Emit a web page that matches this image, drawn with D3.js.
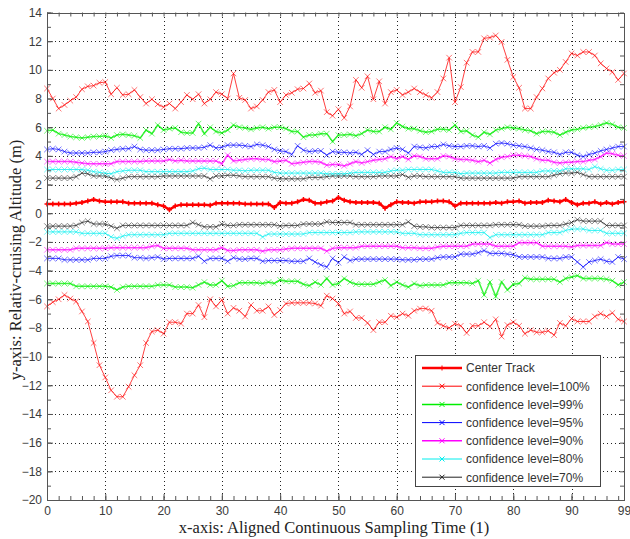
<!DOCTYPE html>
<html>
<head>
<meta charset="utf-8">
<script src="https://cdn.jsdelivr.net/npm/d3@7/dist/d3.min.js"></script>
<style>
  html, body { margin: 0; padding: 0; background: #fff; }
  svg { display: block; }
</style>
</head>
<body>
<svg id="chart" width="630" height="539"></svg>
<script>
// ---------------- DATA ----------------
const sampleTimes = d3.range(0, 100); // 0..99

const centerTrack = [0.65,0.65,0.65,0.65,0.65,0.7,0.75,0.85,0.95,0.85,0.8,0.8,0.8,0.8,0.7,0.7,0.7,0.7,0.7,0.6,0.5,0.25,0.5,0.6,0.6,0.6,0.6,0.6,0.55,0.7,0.7,0.7,0.7,0.7,0.65,0.65,0.65,0.65,0.65,0.4,0.75,0.7,0.7,0.8,0.95,0.9,0.7,0.7,0.8,0.85,1.1,0.9,0.8,0.75,0.75,0.75,0.75,0.7,0.35,0.6,0.8,0.75,0.75,0.7,0.8,0.8,0.8,0.85,0.85,0.8,0.5,0.7,0.7,0.7,0.7,0.7,0.7,0.75,0.7,0.8,0.8,0.85,0.7,0.75,0.75,0.75,0.9,0.85,0.8,0.95,0.75,0.6,0.7,0.7,0.8,0.65,0.75,0.65,0.75,0.8];

const upper100 = [8.7,8.0,7.3,7.55,7.85,8.1,8.65,8.85,8.9,9.1,9.15,8.3,8.75,8.25,8.3,8.6,8.1,7.65,7.95,7.6,7.4,7.65,7.3,7.75,8.25,7.95,8.3,7.65,7.95,8.45,8.3,8.0,9.75,8.05,7.9,7.3,7.45,7.9,8.45,8.6,7.75,8.25,8.4,8.65,8.7,9.05,8.4,8.55,7.05,6.8,7.25,6.65,7.45,9.3,8.75,9.55,7.95,9.2,7.65,8.45,8.6,8.25,8.45,8.7,8.45,8.25,8.05,8.45,9.4,10.85,7.75,8.8,10.5,11.25,11.25,12.2,12.25,12.4,11.95,10.7,9.5,8.75,7.3,7.3,8.1,8.7,9.4,9.8,10.0,10.55,11.15,11.0,11.25,11.25,11.0,10.45,10.1,9.85,9.3,9.75];
const lower100 = [-6.5,-6.2,-6.0,-5.7,-5.95,-6.15,-6.85,-7.55,-9.05,-10.6,-11.45,-12.35,-12.8,-12.8,-12.1,-11.3,-10.6,-9.05,-8.25,-8.15,-8.4,-7.6,-7.6,-7.7,-7.0,-7.0,-6.4,-7.25,-6.0,-6.5,-6.05,-7.0,-6.6,-6.8,-7.2,-6.4,-6.8,-6.8,-6.5,-7.1,-6.75,-6.3,-6.25,-6.25,-6.25,-6.25,-6.3,-6.45,-5.75,-5.95,-6.3,-7.0,-6.85,-7.3,-7.3,-7.65,-8.15,-7.6,-7.6,-7.15,-7.25,-7.0,-7.15,-6.8,-6.65,-6.65,-6.8,-7.65,-7.85,-8.0,-7.7,-7.85,-8.35,-7.85,-7.85,-7.6,-7.9,-7.4,-8.6,-7.8,-7.6,-7.85,-8.4,-8.15,-8.3,-8.3,-8.2,-8.5,-7.65,-7.85,-7.35,-7.55,-7.55,-7.55,-7.2,-7.0,-7.2,-6.95,-7.4,-7.55];

const upper99 = [5.75,5.8,5.55,5.45,5.35,5.3,5.25,5.3,5.35,5.35,5.4,5.25,5.45,5.5,5.45,5.4,5.25,5.8,5.55,6.15,5.8,5.9,5.95,5.65,5.6,5.6,6.25,5.55,6.0,5.7,5.6,5.8,6.15,6.0,5.95,5.85,5.95,6.0,5.9,6.0,6.0,5.9,5.7,5.7,5.3,5.45,5.45,5.55,5.55,5.0,5.45,5.45,5.5,5.4,5.55,5.8,5.7,5.7,6.0,5.85,6.3,6.05,5.9,5.9,5.75,5.65,5.7,5.85,5.85,5.8,6.15,5.7,5.75,5.45,5.3,5.65,5.5,5.8,5.9,6.0,5.95,5.9,5.8,5.75,5.55,5.7,5.7,5.65,5.45,5.65,5.8,5.85,5.95,6.0,6.05,6.15,6.3,6.2,6.0,5.95];
const lower99 = [-4.9,-4.9,-4.9,-4.9,-4.9,-5.1,-5.1,-5.1,-5.1,-5.1,-5.1,-5.15,-5.35,-5.15,-5.1,-5.1,-5.1,-5.1,-5.1,-5.0,-5.0,-5.0,-5.15,-5.15,-5.15,-5.2,-5.0,-4.8,-5.0,-5.0,-4.7,-5.1,-5.05,-4.85,-4.85,-4.85,-4.85,-4.9,-4.8,-4.9,-4.65,-4.75,-4.75,-4.75,-4.95,-5.05,-4.8,-5.0,-4.55,-5.0,-4.9,-4.55,-4.8,-4.95,-4.95,-4.95,-4.95,-4.8,-4.65,-5.05,-4.8,-5.0,-5.15,-4.9,-5.05,-5.0,-5.0,-5.0,-5.0,-4.85,-4.85,-4.85,-4.85,-4.9,-4.7,-5.7,-4.8,-5.8,-4.8,-5.35,-4.95,-4.9,-4.5,-4.6,-4.6,-4.6,-4.6,-4.6,-4.8,-4.55,-4.45,-4.35,-4.55,-4.55,-4.55,-4.55,-4.6,-4.7,-5.0,-4.8];

const upper95 = [4.45,4.5,4.45,4.3,4.2,4.2,4.2,4.2,4.25,4.25,4.3,4.4,4.45,4.5,4.5,4.65,4.45,4.4,4.4,4.4,4.45,4.5,4.5,4.5,4.55,4.55,4.55,4.6,4.75,4.55,4.6,4.75,4.75,4.75,4.7,4.65,4.8,4.75,4.65,4.45,4.35,4.3,4.1,4.7,4.4,4.3,4.35,4.35,4.05,4.3,4.25,4.25,4.2,4.25,4.1,4.4,4.1,4.3,4.3,4.45,4.55,4.45,4.2,4.65,4.6,4.55,4.65,4.65,4.8,4.7,4.65,4.65,4.7,4.7,4.65,4.7,4.55,4.85,4.9,4.85,4.75,4.7,4.65,4.55,4.45,4.4,4.3,4.25,4.1,4.25,4.25,4.05,3.95,4.1,4.2,4.35,4.45,4.55,4.65,4.65];
const lower95 = [-3.15,-3.15,-3.15,-3.25,-3.25,-3.25,-3.25,-3.25,-3.15,-3.15,-3.15,-3.0,-2.95,-2.95,-2.95,-3.1,-3.1,-3.15,-3.1,-3.05,-3.2,-3.15,-3.15,-3.15,-3.15,-3.15,-3.0,-3.35,-3.15,-3.15,-3.15,-3.35,-3.1,-3.2,-3.2,-3.15,-3.15,-3.35,-3.3,-3.3,-3.3,-3.3,-3.35,-3.35,-3.35,-3.15,-3.4,-3.6,-3.75,-3.15,-3.45,-3.05,-3.3,-3.2,-3.2,-3.2,-3.2,-3.2,-3.2,-3.2,-3.2,-3.25,-3.25,-3.25,-3.2,-3.2,-3.2,-3.1,-3.05,-3.05,-3.05,-2.85,-2.85,-2.85,-2.75,-2.6,-2.8,-2.8,-2.8,-2.85,-2.9,-3.05,-3.05,-3.05,-3.05,-3.05,-3.15,-3.15,-3.15,-3.05,-3.05,-3.4,-3.75,-3.4,-3.3,-3.2,-3.35,-3.4,-3.05,-3.2];

const upper90 = [3.6,3.6,3.6,3.6,3.6,3.55,3.5,3.45,3.45,3.45,3.45,3.45,3.6,3.6,3.6,3.6,3.6,3.65,3.65,3.65,3.65,3.75,3.65,3.7,3.65,3.65,3.65,3.65,3.65,3.65,3.45,4.05,3.65,3.7,3.75,3.8,3.8,3.75,3.75,3.6,3.65,3.7,3.45,3.5,3.55,3.6,3.6,3.55,3.35,3.4,3.4,3.3,3.45,3.6,3.5,3.6,3.7,3.75,3.8,3.95,3.8,3.95,3.75,4.0,3.95,3.8,3.8,3.8,4.0,3.95,3.8,3.75,3.75,3.7,3.6,3.7,3.5,3.75,3.9,3.95,4.05,4.05,4.0,3.95,3.8,3.7,3.7,3.55,3.5,3.55,3.55,3.6,3.6,3.7,3.75,3.95,4.2,4.15,4.05,4.0];
const lower90 = [-2.55,-2.55,-2.55,-2.55,-2.55,-2.45,-2.45,-2.45,-2.45,-2.45,-2.45,-2.4,-2.4,-2.4,-2.4,-2.4,-2.4,-2.4,-2.3,-2.25,-2.45,-2.45,-2.45,-2.45,-2.45,-2.55,-2.55,-2.55,-2.55,-2.55,-2.4,-2.6,-2.6,-2.55,-2.55,-2.55,-2.55,-2.65,-2.55,-2.55,-2.55,-2.5,-2.45,-2.45,-2.45,-2.45,-2.45,-2.45,-2.65,-2.45,-2.4,-2.4,-2.4,-2.4,-2.3,-2.3,-2.3,-2.3,-2.3,-2.3,-2.3,-2.4,-2.4,-2.4,-2.45,-2.45,-2.45,-2.35,-2.3,-2.3,-2.3,-2.3,-2.3,-2.15,-2.15,-2.15,-2.15,-2.3,-2.3,-2.3,-2.3,-2.05,-2.05,-2.05,-2.05,-2.3,-2.3,-2.3,-2.3,-2.3,-2.35,-2.25,-2.25,-2.25,-2.25,-2.25,-2.05,-2.15,-2.15,-2.15];

const upper80 = [3.05,3.05,3.05,3.05,3.05,3.05,3.05,3.0,2.9,2.85,2.8,2.75,2.9,2.95,3.0,3.0,3.0,2.9,2.9,2.9,2.9,2.9,2.9,2.9,2.9,2.95,3.1,3.15,3.05,3.05,3.05,3.05,3.0,3.0,2.95,3.0,3.0,3.0,3.0,2.85,2.8,2.8,2.8,2.8,2.8,2.8,2.8,2.8,2.75,2.75,2.75,2.75,2.8,2.85,2.85,2.85,2.85,2.85,2.85,2.95,3.0,3.0,3.05,3.05,3.05,3.05,3.05,2.95,2.85,2.85,2.85,2.75,2.8,2.8,2.8,2.8,2.8,2.8,2.85,2.85,2.85,2.85,2.85,2.85,2.85,2.95,2.95,2.95,2.95,3.1,3.1,3.1,3.1,3.05,3.25,3.1,3.0,3.0,3.05,3.05];
const lower80 = [-1.3,-1.3,-1.3,-1.3,-1.3,-1.3,-1.4,-1.4,-1.4,-1.4,-1.4,-1.65,-1.75,-1.6,-1.5,-1.5,-1.5,-1.5,-1.5,-1.5,-1.5,-1.4,-1.4,-1.4,-1.4,-1.4,-1.4,-1.4,-1.4,-1.4,-1.4,-1.4,-1.4,-1.4,-1.4,-1.4,-1.4,-1.65,-1.45,-1.45,-1.45,-1.45,-1.45,-1.45,-1.45,-1.35,-1.35,-1.35,-1.35,-1.35,-1.35,-1.35,-1.35,-1.3,-1.3,-1.3,-1.3,-1.3,-1.3,-1.3,-1.3,-1.4,-1.4,-1.4,-1.5,-1.5,-1.5,-1.5,-1.5,-1.5,-1.5,-1.4,-1.35,-1.35,-1.35,-1.35,-1.7,-1.5,-1.5,-1.5,-1.5,-1.5,-1.5,-1.5,-1.5,-1.5,-1.35,-1.35,-1.35,-1.2,-1.1,-1.1,-1.1,-1.2,-1.2,-1.2,-1.4,-1.4,-1.4,-1.4];

const upper70 = [2.45,2.45,2.45,2.45,2.45,2.55,2.8,2.75,2.6,2.6,2.6,2.45,2.35,2.45,2.55,2.55,2.55,2.55,2.55,2.55,2.6,2.6,2.6,2.6,2.6,2.6,2.6,2.6,2.4,2.6,2.6,2.65,2.65,2.6,2.55,2.55,2.55,2.55,2.55,2.45,2.4,2.4,2.4,2.4,2.4,2.5,2.5,2.5,2.55,2.6,2.6,2.6,2.6,2.55,2.55,2.55,2.55,2.6,2.6,2.6,2.6,2.7,2.5,2.6,2.6,2.55,2.55,2.55,2.55,2.55,2.55,2.45,2.45,2.45,2.45,2.45,2.45,2.45,2.45,2.45,2.45,2.55,2.55,2.55,2.55,2.55,2.55,2.65,2.75,2.8,2.8,2.85,2.7,2.55,2.55,2.55,2.55,2.55,2.55,2.55];
const lower70 = [-0.9,-0.9,-0.9,-0.9,-0.9,-0.85,-0.65,-0.55,-0.75,-0.75,-0.75,-0.9,-1.05,-0.85,-0.85,-0.85,-0.85,-0.85,-0.85,-0.85,-0.85,-0.85,-0.85,-0.85,-0.85,-0.65,-0.8,-0.95,-0.95,-0.95,-0.75,-0.85,-0.85,-0.8,-0.8,-0.8,-0.8,-0.8,-0.8,-0.8,-0.9,-0.85,-0.85,-0.85,-0.75,-0.75,-0.75,-0.75,-0.6,-0.65,-0.65,-0.65,-0.65,-0.8,-0.8,-0.8,-0.8,-0.8,-0.8,-0.8,-0.8,-0.8,-0.6,-0.9,-0.95,-0.95,-1.0,-1.0,-1.0,-1.0,-1.0,-0.85,-0.85,-0.85,-0.85,-0.85,-0.85,-0.8,-0.8,-0.8,-0.8,-0.8,-0.9,-0.9,-0.9,-0.9,-0.85,-0.85,-0.85,-0.75,-0.65,-0.45,-0.55,-0.55,-0.55,-0.55,-0.85,-0.85,-0.85,-0.85];

const legendLabels = ["Center Track","confidence level=100%","confidence level=99%","confidence level=95%","confidence level=90%","confidence level=80%","confidence level=70%"];
const xTickValues = [0,10,20,30,40,50,60,70,80,90,99];
const yTickValues = [-20,-18,-16,-14,-12,-10,-8,-6,-4,-2,0,2,4,6,8,10,12,14];

// ---------------- STYLE ----------------
const seriesStyles = [
  { label: legendLabels[0], data: [centerTrack], color: "#ff0000", width: 2.5, marker: "+" },
  { label: legendLabels[1], data: [upper100, lower100], color: "#ff0000", width: 1, marker: "x" },
  { label: legendLabels[2], data: [upper99, lower99], color: "#00ee00", width: 1.5, marker: "x" },
  { label: legendLabels[3], data: [upper95, lower95], color: "#0000ff", width: 1, marker: "x" },
  { label: legendLabels[4], data: [upper90, lower90], color: "#ff00ff", width: 1.5, marker: "x" },
  { label: legendLabels[5], data: [upper80, lower80], color: "#00eeee", width: 1, marker: "x" },
  { label: legendLabels[6], data: [upper70, lower70], color: "#222222", width: 1, marker: "x" }
];

const svg = d3.select("#chart");
const L = 47, R = 624, T = 12.5, B = 500;
const x = d3.scaleLinear().domain([0, 99]).range([L, R]);
const y = d3.scaleLinear().domain([-20, 14]).range([B, T]);

// background
svg.append("rect").attr("width", 630).attr("height", 539).attr("fill", "#fff");

// grid
const grid = svg.append("g").attr("stroke", "#222").attr("stroke-width", 1).attr("stroke-dasharray", "1,3").attr("shape-rendering", "crispEdges");
grid.selectAll("line.gx").data(xTickValues.filter(v => v > 0 && v < 99)).join("line")
  .attr("x1", d => Math.round(x(d)) + 0.5).attr("x2", d => Math.round(x(d)) + 0.5).attr("y1", T).attr("y2", B);
grid.selectAll("line.gy").data(yTickValues.filter(v => v > -20 && v < 14)).join("line").attr("class","gy")
  .attr("y1", d => Math.round(y(d)) + 0.5).attr("y2", d => Math.round(y(d)) + 0.5).attr("x1", L).attr("x2", R);

// series
const line = d3.line().x((d, i) => x(sampleTimes[i])).y(d => y(d));
const plot = svg.append("g");
function markerPath(m, s) {
  if (m === "+") return `M${-s},0H${s}M0,${-s}V${s}`;
  return `M${-s},${-s}L${s},${s}M${-s},${s}L${s},${-s}`;
}
seriesStyles.slice().reverse().forEach(st => {
  st.data.forEach(arr => {
    const g = plot.append("g");
    g.append("path").datum(arr).attr("d", line).attr("fill", "none")
      .attr("stroke", st.color).attr("stroke-width", st.width).attr("stroke-opacity", st.marker === "+" ? 1 : 0.75);
    g.selectAll("path.m").data(arr).join("path").attr("class", "m")
      .attr("transform", (d, i) => `translate(${x(sampleTimes[i])},${y(d)})`)
      .attr("d", markerPath(st.marker, st.marker === "+" ? 2.5 : 2.8))
      .attr("fill", "none").attr("stroke", st.color)
      .attr("stroke-width", st.marker === "+" ? 1.5 : 1)
      .attr("stroke-opacity", st.marker === "+" ? 1 : 0.55);
  });
});

// axes
const axisColor = "#555";
function styleAxis(g) {
  g.select(".domain").remove();
  g.selectAll(".tick line").attr("stroke", axisColor);
  g.selectAll(".tick text").attr("fill", "#3a3a3a").attr("font-family", "'Liberation Sans', Arial, sans-serif").attr("font-size", 12);
}
const xMinor = d3.range(0, 99, 2);
const yMinor = d3.range(-20, 15, 1);
svg.append("g").attr("transform", `translate(0,${B})`)
  .call(d3.axisBottom(x).tickValues(xMinor).tickSize(-4).tickFormat("")).call(styleAxis);
svg.append("g").attr("transform", `translate(0,${T})`)
  .call(d3.axisTop(x).tickValues(xMinor).tickSize(-4).tickFormat("")).call(styleAxis);
svg.append("g").attr("transform", `translate(${L},0)`)
  .call(d3.axisLeft(y).tickValues(yMinor).tickSize(-4).tickFormat("")).call(styleAxis);
svg.append("g").attr("transform", `translate(${R},0)`)
  .call(d3.axisRight(y).tickValues(yMinor).tickSize(-4).tickFormat("")).call(styleAxis);
svg.append("g").attr("transform", `translate(0,${B})`)
  .call(d3.axisBottom(x).tickValues(xTickValues).tickSize(-6).tickPadding(6).tickFormat(d3.format("d"))).call(styleAxis);
svg.append("g").attr("transform", `translate(${L},0)`)
  .call(d3.axisLeft(y).tickValues(yTickValues).tickSize(-6).tickPadding(5).tickFormat(d3.format("d"))).call(styleAxis);

// box
svg.append("rect").attr("x", L + 0.5).attr("y", Math.round(T) + 0.5).attr("width", R - L).attr("height", B - Math.round(T))
  .attr("fill", "none").attr("stroke", axisColor).attr("stroke-width", 1).attr("shape-rendering", "crispEdges");

// axis titles
svg.append("text").attr("x", 334).attr("y", 533).attr("text-anchor", "middle")
  .attr("font-family", "'Liberation Serif', 'Times New Roman', serif").attr("font-size", 16.5).attr("fill", "#222")
  .text("x-axis: Aligned Continuous Sampling Time (1)");
svg.append("text").attr("transform", "translate(21,260) rotate(-90)").attr("text-anchor", "middle")
  .attr("font-family", "'Liberation Serif', 'Times New Roman', serif").attr("font-size", 16.5).attr("fill", "#222")
  .text("y-axis: Relativ-cruising Altitude (m)");

// legend
const lg = svg.append("g");
lg.append("rect").attr("x", 415.5).attr("y", 355.5).attr("width", 185).attr("height", 131)
  .attr("fill", "#fff").attr("stroke", "#444").attr("stroke-width", 1).attr("shape-rendering", "crispEdges");
seriesStyles.forEach((st, k) => {
  const cy = 368 + k * 18.2;
  lg.append("line").attr("x1", 422).attr("x2", 462).attr("y1", cy).attr("y2", cy)
    .attr("stroke", st.color).attr("stroke-width", st.width);
  lg.append("path").attr("transform", `translate(442,${cy})`).attr("d", markerPath(st.marker, 2.5))
    .attr("fill", "none").attr("stroke", st.color).attr("stroke-width", 1);
  lg.append("text").attr("x", 466).attr("y", cy).attr("dy", "0.36em")
    .attr("font-family", "'Liberation Sans', Arial, sans-serif").attr("font-size", 12).attr("fill", "#333")
    .text(st.label);
});
</script>
</body>
</html>
